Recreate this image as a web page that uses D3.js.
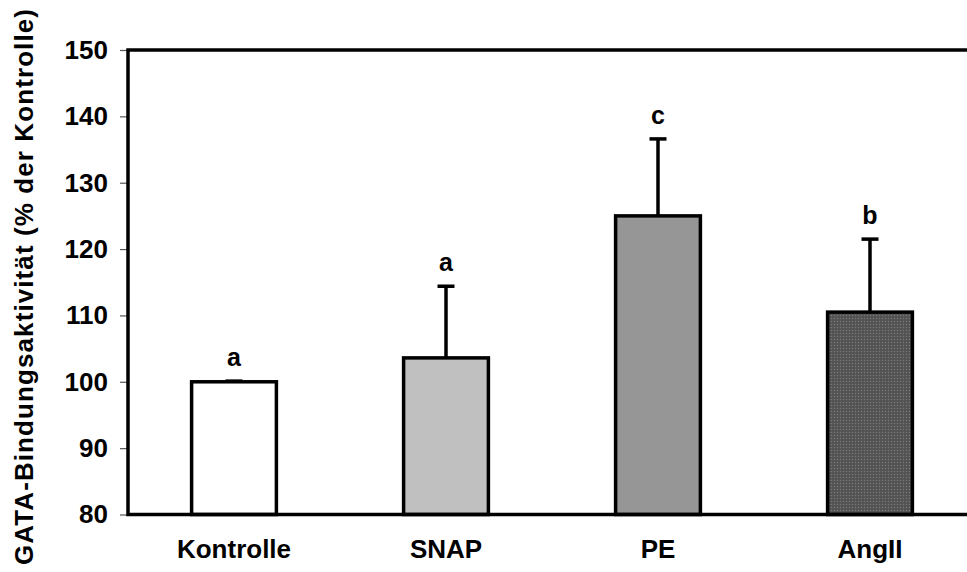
<!DOCTYPE html>
<html>
<head>
<meta charset="utf-8">
<script src="https://cdn.jsdelivr.net/npm/d3@7"></script>
<style>
  html, body { margin: 0; padding: 0; background: #fff; }
  svg { display: block; font-family: "Liberation Sans", Arial, sans-serif; font-weight: bold; }
</style>
</head>
<body>
<svg id="chart" width="967" height="572"></svg>
<script>
// Treatment groups and their GATA binding activity (% of control)
const categories = ["Kontrolle", "SNAP", "PE", "AngII"];
const values = [100, 103.6, 125.0, 110.5];
const errors = [0.1, 10.8, 11.6, 11.0];
const letters = ["a", "a", "c", "b"];
const yTicks = [80, 90, 100, 110, 120, 130, 140, 150];
const fills = ["#ffffff", "#c0c0c0", "#969696", "url(#dots)"];

const svg = d3.select("#chart");
const plotLeft = 128, plotTop = 50, plotBottom = 514.5, plotRight = 976;

// fine dotted texture for the AngII bar
const pat = svg.append("defs").append("pattern")
  .attr("id", "dots").attr("width", 3).attr("height", 3)
  .attr("patternUnits", "userSpaceOnUse");
pat.append("rect").attr("width", 3).attr("height", 3).attr("fill", "#585858");
pat.append("rect").attr("width", 1).attr("height", 1).attr("fill", "#7a7a7a");
pat.append("rect").attr("x", 1.5).attr("y", 1.5).attr("width", 1).attr("height", 1).attr("fill", "#3e3e3e");

const x = d3.scaleBand().domain(categories).range([plotLeft, plotRight])
  .paddingInner(0.6).paddingOuter(0.3);
const y = d3.scaleLinear().domain([80, 150]).range([plotBottom, plotTop]);

// y axis ticks and labels
const yAxis = d3.axisLeft(y).tickValues(yTicks).tickSize(8).tickPadding(12);
const ya = svg.append("g").attr("transform", `translate(${plotLeft},0)`).call(yAxis);
ya.select(".domain").remove();
ya.selectAll(".tick line").attr("stroke", "#555").attr("stroke-width", 1.2);
ya.selectAll(".tick text")
  .attr("font-size", 26).attr("font-weight", "bold")
  .attr("font-family", "Liberation Sans, Arial, sans-serif").attr("fill", "#000");

// bars
svg.append("g").selectAll("rect").data(categories).join("rect")
  .attr("x", d => x(d))
  .attr("y", (d, i) => y(values[i]))
  .attr("width", x.bandwidth())
  .attr("height", (d, i) => y(80) - y(values[i]))
  .attr("fill", (d, i) => fills[i])
  .attr("stroke", "#000").attr("stroke-width", 3.5);

// error bars (upper only)
const eb = svg.append("g").attr("stroke", "#000").attr("stroke-width", 3.5);
categories.forEach((c, i) => {
  const cx = x(c) + x.bandwidth() / 2;
  eb.append("line").attr("x1", cx).attr("x2", cx)
    .attr("y1", y(values[i])).attr("y2", y(values[i] + errors[i]));
  eb.append("line").attr("x1", cx - 8.5).attr("x2", cx + 8.5)
    .attr("y1", y(values[i] + errors[i])).attr("y2", y(values[i] + errors[i]));
});

// significance letters
svg.append("g").selectAll("text").data(categories).join("text")
  .attr("x", d => x(d) + x.bandwidth() / 2)
  .attr("y", (d, i) => y(values[i] + errors[i]) - 15)
  .attr("text-anchor", "middle").attr("font-size", 25)
  .text((d, i) => letters[i]);

// plot frame
svg.append("rect").attr("x", plotLeft).attr("y", plotTop)
  .attr("width", plotRight - plotLeft + 20).attr("height", plotBottom - plotTop)
  .attr("fill", "none").attr("stroke", "#000").attr("stroke-width", 3.5);

// category labels
svg.append("g").selectAll("text").data(categories).join("text")
  .attr("x", d => x(d) + x.bandwidth() / 2)
  .attr("y", 558)
  .attr("text-anchor", "middle").attr("font-size", 26)
  .text(d => d);

// y axis title
svg.append("text")
  .attr("transform", `translate(33,${287}) rotate(-90)`)
  .attr("text-anchor", "middle").attr("font-size", 26)
  .attr("textLength", 556).attr("lengthAdjust", "spacing")
  .text("GATA-Bindungsaktivität (% der Kontrolle)");
</script>
</body>
</html>
